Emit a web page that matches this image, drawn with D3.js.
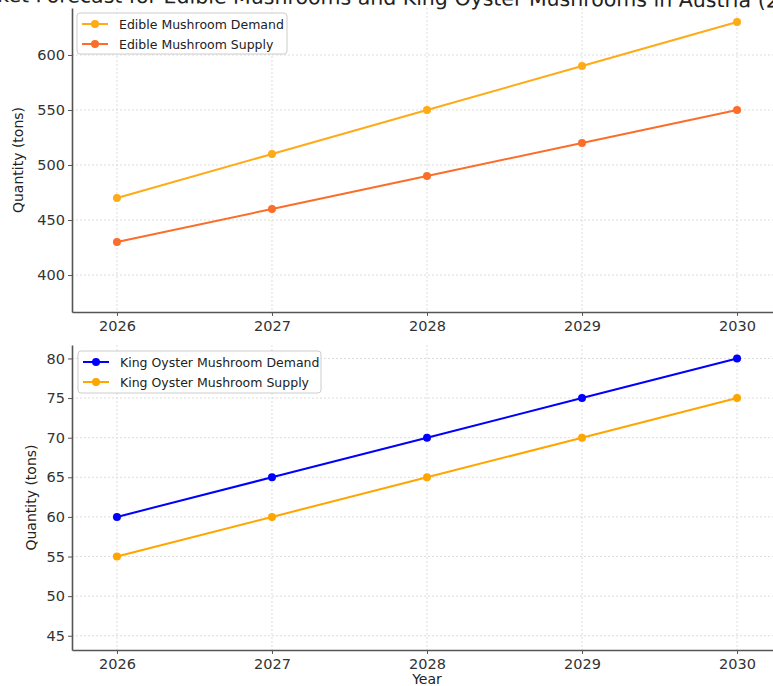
<!DOCTYPE html>
<html>
<head>
<meta charset="utf-8">
<script src="https://cdn.jsdelivr.net/npm/d3@7"></script>
<style>
  body { margin: 0; background: #fff; }
  svg { display: block; font-family: "DejaVu Sans", sans-serif; }
</style>
</head>
<body>
<svg id="svg" width="773" height="686"></svg>
<script>
// data
var years = [2026, 2027, 2028, 2029, 2030];
var edibleDemand = [470, 510, 550, 590, 630];
var edibleSupply = [430, 460, 490, 520, 550];
var kingDemand = [60, 65, 70, 75, 80];
var kingSupply = [55, 60, 65, 70, 75];
var edibleTicks = [400, 450, 500, 550, 600];
var kingTicks = [45, 50, 55, 60, 65, 70, 75, 80];

var svg = d3.select("#svg");

// title, cut by the top edge like in the original crop (which is slightly tilted)
svg.append("text")
    .attr("transform", "translate(422,5) rotate(0.4)")
    .attr("text-anchor", "middle")
    .attr("font-size", "20.5px")
    .attr("fill", "#222")
    .text("Market Forecast for Edible Mushrooms and King Oyster Mushrooms in Austria (2026-2030)");

function panel(cfg) {
    var x = d3.scaleLinear().domain([2025.71, 2030.29]).range([72, 782]);
    var y = d3.scaleLinear().domain(cfg.ydomain).range([cfg.bottom, cfg.top]);
    var g = svg.append("g");

    // grid
    g.selectAll(".gx").data(years).enter().append("line")
        .attr("x1", d => x(d)).attr("x2", d => x(d))
        .attr("y1", cfg.top).attr("y2", cfg.bottom)
        .attr("stroke", "#d4d4d4").attr("stroke-dasharray", "2,2").attr("stroke-width", 0.8);
    g.selectAll(".gy").data(cfg.ticks).enter().append("line")
        .attr("x1", 72).attr("x2", 773)
        .attr("y1", d => y(d)).attr("y2", d => y(d))
        .attr("stroke", "#d4d4d4").attr("stroke-dasharray", "2,2").attr("stroke-width", 0.8);

    // axes
    var ax = g.append("g").attr("transform", "translate(0," + cfg.bottom + ")")
        .call(d3.axisBottom(x).tickValues(years).tickFormat(d3.format("d"))
            .tickSize(4).tickSizeOuter(0).tickPadding(5));
    var ay = g.append("g").attr("transform", "translate(72,0)")
        .call(d3.axisLeft(y).tickValues(cfg.ticks).tickSize(4).tickSizeOuter(0).tickPadding(3));
    [ax, ay].forEach(function(a) {
        a.select(".domain").attr("stroke", "#555").attr("stroke-width", 1.6);
        a.selectAll(".tick line").attr("stroke", "#555");
        a.selectAll(".tick text").attr("font-size", "14.5px").attr("fill", "#333")
            .attr("font-family", "DejaVu Sans, sans-serif");
    });

    g.append("text")
        .attr("transform", "translate(" + cfg.labelX + "," + ((cfg.top + cfg.bottom) / 2) + ") rotate(-90)")
        .attr("text-anchor", "middle")
        .attr("font-size", "14px").attr("fill", "#222")
        .text("Quantity (tons)");

    // series
    var line = d3.line().x((d, i) => x(years[i])).y(d => y(d));
    cfg.series.forEach(function(s) {
        g.append("path").datum(s.values)
            .attr("d", line).attr("fill", "none")
            .attr("stroke", s.color).attr("stroke-width", 2);
        g.selectAll(null).data(s.values).enter().append("circle")
            .attr("cx", (d, i) => x(years[i])).attr("cy", d => y(d))
            .attr("r", 4).attr("fill", s.color);
    });

    // legend
    var lg = g.append("g");
    lg.append("rect")
        .attr("x", cfg.legend.x).attr("y", cfg.legend.y)
        .attr("width", cfg.legend.w).attr("height", cfg.legend.h)
        .attr("rx", 3).attr("fill", "#fff").attr("fill-opacity", 0.85)
        .attr("stroke", "#ccc");
    cfg.series.forEach(function(s, i) {
        var ry = cfg.legend.y + 11 + i * cfg.legend.step;
        lg.append("line")
            .attr("x1", cfg.legend.x + 5).attr("x2", cfg.legend.x + 31)
            .attr("y1", ry).attr("y2", ry)
            .attr("stroke", s.color).attr("stroke-width", 2);
        lg.append("circle").attr("cx", cfg.legend.x + 18).attr("cy", ry).attr("r", 4).attr("fill", s.color);
        lg.append("text").attr("x", cfg.legend.x + 42).attr("y", ry + 4.5)
            .attr("font-size", "12.5px").attr("fill", "#222").text(s.name);
    });
}

panel({
    top: 8, bottom: 312, ydomain: [366.4, 642.7], ticks: edibleTicks, labelX: 23,
    series: [
        {name: "Edible Mushroom Demand", values: edibleDemand, color: "#FFAA17"},
        {name: "Edible Mushroom Supply", values: edibleSupply, color: "#FA6E2A"}
    ],
    legend: {x: 77, y: 13, w: 210, h: 41, step: 20}
});

panel({
    top: 345, bottom: 650, ydomain: [43.2, 81.7], ticks: kingTicks, labelX: 36,
    series: [
        {name: "King Oyster Mushroom Demand", values: kingDemand, color: "#0000FF"},
        {name: "King Oyster Mushroom Supply", values: kingSupply, color: "#FFA500"}
    ],
    legend: {x: 78, y: 351, w: 243, h: 42, step: 20}
});

svg.append("text")
    .attr("x", 427).attr("y", 684)
    .attr("text-anchor", "middle")
    .attr("font-size", "14px").attr("fill", "#222")
    .text("Year");
</script>
</body>
</html>
